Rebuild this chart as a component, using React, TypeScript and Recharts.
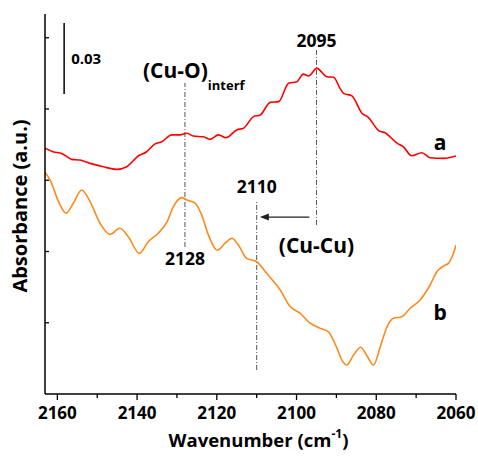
import React from "react";
import {
  Label,
  Line,
  LineChart,
  ReferenceDot,
  ReferenceLine,
  XAxis,
  YAxis,
} from "recharts";

const FONT = "'Open Sans', 'DejaVu Sans', sans-serif";

// spectrum a (red)
const waveA = [
  2163.1, 2161.1, 2158.9, 2156.4, 2154.3, 2151.8, 2148.5, 2145.1, 2142.6, 2139.7,
  2137.6, 2135.5, 2133.8, 2131.3, 2129.2, 2127.5, 2125.9, 2123.4, 2121.7, 2119.6,
  2117.7, 2115.0, 2113.3, 2110.8, 2109.1, 2106.6, 2104.5, 2102.0, 2099.9, 2098.3,
  2097.0, 2094.9, 2092.4, 2090.7, 2089.1, 2088.2, 2086.1, 2083.6, 2082.0, 2079.4,
  2077.8, 2074.8, 2073.2, 2071.1, 2068.6, 2066.5, 2063.1, 2060.0,
];
const absA = [
  0.1035, 0.102, 0.1013, 0.0988, 0.0985, 0.0971, 0.0957, 0.0946, 0.0957, 0.1002,
  0.102, 0.1053, 0.1062, 0.1091, 0.1091, 0.1098, 0.1086, 0.1083, 0.1072, 0.1091,
  0.1079, 0.1112, 0.1119, 0.1168, 0.1175, 0.1228, 0.1231, 0.1308, 0.1315, 0.1347,
  0.1339, 0.1371, 0.1336, 0.1334, 0.1287, 0.1266, 0.1255, 0.1182, 0.1165, 0.1109,
  0.11, 0.1056, 0.1041, 0.1003, 0.1016, 0.0995, 0.0992, 0.1002,
];

// spectrum b (orange)
const waveB = [
  2163.1, 2161.8, 2159.7, 2157.8, 2156.0, 2153.9, 2151.8, 2149.3, 2146.8, 2144.3,
  2142.2, 2139.4, 2137.2, 2134.7, 2132.5, 2130.9, 2128.8, 2127.5, 2125.4, 2123.8,
  2122.1, 2119.9, 2117.9, 2116.2, 2114.6, 2112.5, 2110.0, 2107.5, 2104.1, 2101.6,
  2099.1, 2096.6, 2094.1, 2092.0, 2089.9, 2088.6, 2087.4, 2085.7, 2083.9, 2082.2,
  2080.7, 2079.0, 2077.3, 2075.7, 2073.6, 2071.5, 2069.0, 2066.5, 2064.8, 2063.1,
  2061.9, 2060.8, 2060.0,
];
const absB = [
  0.0933, 0.0901, 0.081, 0.0761, 0.0803, 0.0859, 0.081, 0.0719, 0.0672, 0.0698,
  0.0662, 0.0592, 0.0641, 0.0677, 0.0725, 0.0789, 0.0827, 0.0817, 0.0803, 0.0754,
  0.0669, 0.0605, 0.0635, 0.0656, 0.0627, 0.0571, 0.0557, 0.0508, 0.0438, 0.0368,
  0.034, 0.0298, 0.0277, 0.0262, 0.0194, 0.0143, 0.0122, 0.0164, 0.0197, 0.0157,
  0.0122, 0.0199, 0.0283, 0.0319, 0.0325, 0.0361, 0.0396, 0.0459, 0.0515, 0.0539,
  0.055, 0.0585, 0.0627,
];

const xTicks = [2160, 2150, 2140, 2130, 2120, 2110, 2100, 2090, 2080, 2070, 2060];
const yTicks = [0.03, 0.06, 0.09, 0.12, 0.15];

// peak markers: wavenumber, bottom and top of the dash-dot line
const markWave = [2128, 2095, 2110];
const markFrom = [0.0619, 0.0712, 0.0101];
const markTo = [0.131, 0.1448, 0.0817];

const seriesA = waveA.map((w, i) => ({ w, a: absA[i] }));
const seriesB = waveB.map((w, i) => ({ w, a: absB[i] }));

const dashDot = "5 2 1 2";

function XTick(props: any) {
  const { x, y, payload } = props;
  const major = payload.value % 20 === 0;
  return (
    <g>
      <line x1={x} y1={y} x2={x} y2={y + (major ? 6 : 4)} stroke="#000" strokeWidth={1.3} />
      {major && (
        <text x={x} y={y + 25} textAnchor="middle" fontFamily={FONT} fontWeight="bold" fontSize={17} fill="#000">
          {payload.value}
        </text>
      )}
    </g>
  );
}

function YTick(props: any) {
  const { x, y } = props;
  return <line x1={x} y1={y} x2={x + 4} y2={y} stroke="#000" strokeWidth={1.3} />;
}

function Arrow(props: any) {
  const { x1, y1, x2 } = props;
  const left = Math.min(x1, x2);
  const right = Math.max(x1, x2);
  return (
    <g>
      <line x1={left + 6} y1={y1} x2={right} y2={y1} stroke="#222" strokeWidth={1.3} />
      <polygon points={`${left},${y1} ${left + 9},${y1 - 3.5} ${left + 9},${y1 + 3.5}`} fill="#222" />
    </g>
  );
}

const boldText = { fontFamily: FONT, fontWeight: "bold", fill: "#000" } as const;

export default function App() {
  return (
    <div style={{ position: "absolute", left: 0, top: 0, width: 478, height: 457, background: "#fff" }}>
      <LineChart width={478} height={457} margin={{ top: 14, right: 22, bottom: 23, left: 15 }}>
        <XAxis
          dataKey="w"
          type="number"
          domain={[2060, 2163.1]}
          reversed
          allowDataOverflow
          ticks={xTicks}
          interval={0}
          tickLine={false}
          tickSize={0}
          tickMargin={0}
          tick={<XTick />}
          stroke="#000"
          strokeWidth={1.5}
          height={40}
          label={{
            content: ({ viewBox }: any) => (
              <text x={viewBox.x + viewBox.width / 2 + 8} y={viewBox.y + 53} textAnchor="middle" fontSize={18.5} {...boldText}>
                Wavenumber (cm
                <tspan fontSize={12} dy={-9}>-1</tspan>
                <tspan dy={9}>)</tspan>
              </text>
            ),
          }}
        />
        <YAxis
          type="number"
          domain={[0, 0.16]}
          allowDataOverflow
          ticks={yTicks}
          width={30}
          tickLine={false}
          tickSize={0}
          tickMargin={0}
          tick={<YTick />}
          stroke="#000"
          strokeWidth={1.5}
          label={{
            content: ({ viewBox }: any) => {
              const cx = viewBox.x + 4;
              const cy = viewBox.y + viewBox.height / 2 + 2;
              return (
                <text x={cx} y={cy} textAnchor="middle" dominantBaseline="central" fontSize={20} transform={`rotate(-90, ${cx}, ${cy})`} {...boldText}>
                  Absorbance (a.u.)
                </text>
              );
            },
          }}
        />

        {/* scale bar */}
        <ReferenceLine
          segment={[{ x: 2158.3, y: 0.1263 }, { x: 2158.3, y: 0.1562 }]}
          stroke="#000"
          strokeWidth={1.5}
          label={{ value: "0.03", position: "right", offset: 7, fontSize: 15, ...boldText }}
        />

        {/* peak markers */}
        <ReferenceLine
          segment={[{ x: markWave[0], y: markFrom[0] }, { x: markWave[0], y: markTo[0] }]}
          stroke="#555"
          strokeDasharray={dashDot}
        >
          <Label value="2128" position="bottom" offset={6} fontSize={17.5} {...boldText} />
          <Label
            content={({ viewBox }: any) => (
              <text x={viewBox.x - 42} y={viewBox.y - 5} fontSize={21} {...boldText}>
                (Cu-O)
                <tspan fontSize={13} dy={12}>interf</tspan>
              </text>
            )}
          />
        </ReferenceLine>
        <ReferenceLine
          segment={[{ x: markWave[1], y: markFrom[1] }, { x: markWave[1], y: markTo[1] }]}
          stroke="#555"
          strokeDasharray={dashDot}
        >
          <Label value="2095" position="top" offset={3} fontSize={17.5} {...boldText} />
          <Label value="(Cu-Cu)" position="bottom" offset={13} fontSize={21} {...boldText} />
        </ReferenceLine>
        <ReferenceLine
          segment={[{ x: markWave[2], y: markFrom[2] }, { x: markWave[2], y: markTo[2] }]}
          stroke="#555"
          strokeDasharray={dashDot}
        >
          <Label value="2110" position="top" offset={7} fontSize={17.5} {...boldText} />
        </ReferenceLine>

        {/* shift arrow 2095 -> 2110 */}
        <ReferenceLine
          segment={[{ x: 2096.8, y: 0.0745 }, { x: 2109.2, y: 0.0745 }]}
          shape={<Arrow />}
        />

        <Line
          data={seriesA}
          dataKey="a"
          type="monotone"
          stroke="#ff0000"
          strokeWidth={1.6}
          dot={false}
          isAnimationActive={false}
        />
        <Line
          data={seriesB}
          dataKey="a"
          type="monotone"
          stroke="#ff8a1c"
          strokeWidth={1.6}
          dot={false}
          isAnimationActive={false}
        />

        <ReferenceDot x={2064} y={0.1057} r={0} fill="none" stroke="none" label={{ value: "a", position: "center", fontSize: 21, ...boldText }} />
        <ReferenceDot x={2064} y={0.0345} r={0} fill="none" stroke="none" label={{ value: "b", position: "center", fontSize: 21, ...boldText }} />
      </LineChart>
    </div>
  );
}
